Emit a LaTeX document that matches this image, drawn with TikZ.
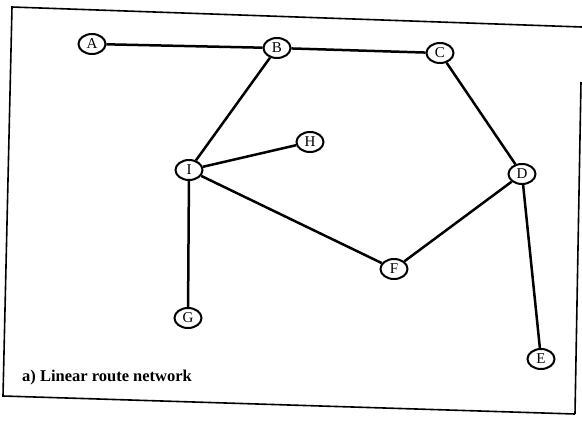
\documentclass[tikz,border=0pt]{standalone}
\usepackage{fontspec}
\setmainfont{Liberation Serif}
\usetikzlibrary{shapes.geometric}
\begin{document}
\begin{tikzpicture}[x=1pt,y=-1pt,
  stop/.style={ellipse,draw,line width=2pt,minimum width=27pt,minimum height=20pt,inner sep=0pt,font=\fontsize{15}{15}\selectfont},
  route/.style={line width=2.5pt},
  frame/.style={line width=1.6pt}]
\useasboundingbox (0,0) rectangle (582,421);
% frame
\coordinate (tl) at (12,7);
\coordinate (tr) at (582,27);
\coordinate (bl) at (3,396);
\coordinate (br) at (575,414);
\coordinate (rt) at (581,82);
\draw[frame] (tr) -- (tl) -- (bl) -- (br);
\draw[frame] (rt) -- (br);
% stops
\node[stop] (A) at (92,44) {A};
\node[stop] (B) at (277,48) {B};
\node[stop] (C) at (440,53) {C};
\node[stop] (H) at (310,142) {H};
\node[stop] (I) at (189,170) {I};
\node[stop] (D) at (522,174) {D};
\node[stop] (F) at (394,269) {F};
\node[stop] (G) at (188,318) {G};
\node[stop] (E) at (541,359) {E};
% routes
\draw[route] (A) -- (B);
\draw[route] (B) -- (C);
\draw[route] (B) -- (I);
\draw[route] (C) -- (D);
\draw[route] (I) -- (H);
\draw[route] (I) -- (F);
\draw[route] (I) -- (G);
\draw[route] (D) -- (F);
\draw[route] (D) -- (E);
\node[anchor=west,font=\fontsize{16.5}{16.5}\selectfont\bfseries,inner sep=0pt] (cap) at (22,378) {a) Linear route network};
\end{tikzpicture}
\end{document}
